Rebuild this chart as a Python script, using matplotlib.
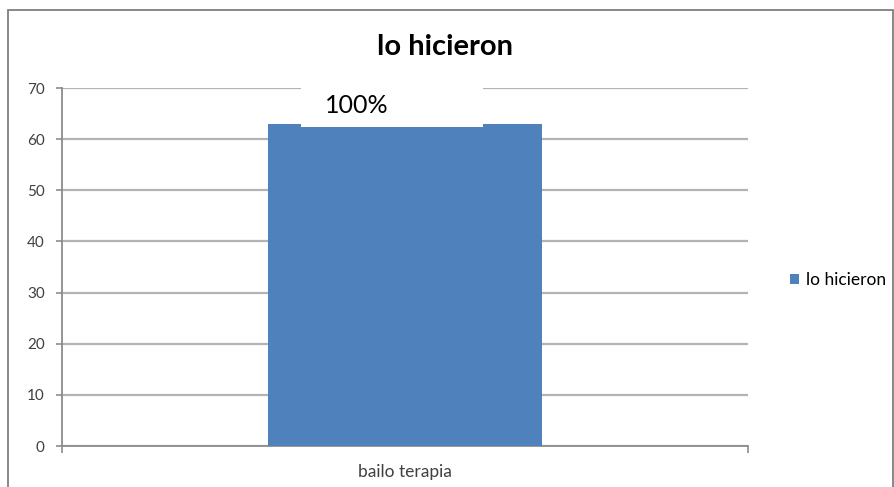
import matplotlib.pyplot as plt
from matplotlib.patches import Rectangle

categories = ['bailo terapia']
values = [63]
series_name = 'lo hicieron'
data_labels = ['100%']
yticks = [0, 10, 20, 30, 40, 50, 60, 70]

bar_color = '#4F81BD'
grid_color = '#B3B3B3'
plt.rcParams['font.family'] = ['Lato', 'DejaVu Sans']

fig = plt.figure(figsize=(8.94, 4.87), dpi=100)
ax = fig.add_axes([62 / 894, 1 - 446 / 487, 686 / 894, 358 / 487])

# chart border (bottom edge falls just outside the image)
fig.patches.append(Rectangle((8 / 894, -3 / 487), 885 / 894, 480 / 487,
                             transform=fig.transFigure, fill=False,
                             edgecolor='#7F7F7F', linewidth=1.3))

x = list(range(len(categories)))
bars = ax.bar(x, values, width=0.4, color=bar_color, label=series_name, zorder=3)

ax.set_xlim(-0.5, len(categories) - 0.5)
ax.set_ylim(0, 70)
ax.set_yticks(yticks)
ax.tick_params(axis='y', labelsize=11, length=4.5, width=1.2, pad=8,
               color='#8C8C8C', labelcolor='#404040')
ax.set_xticks(x)
ax.set_xticklabels(categories)
ax.tick_params(axis='x', length=0, labelsize=12.5, labelcolor='#404040', pad=13)
# category boundary ticks
ax.set_xticks([-0.5 + i for i in range(len(categories) + 1)], minor=True)
ax.tick_params(axis='x', which='minor', length=5, width=1.2, color='#8C8C8C')

ax.grid(axis='y', color=grid_color, linewidth=1.6, zorder=0)
for side in ['top', 'right']:
    ax.spines[side].set_visible(False)
for side in ['left', 'bottom']:
    ax.spines[side].set_color('#8C8C8C')
    ax.spines[side].set_linewidth(1.3)

for rect, lab in zip(bars, data_labels):
    cx = rect.get_x() + rect.get_width() / 2
    h = rect.get_height()
    ax.add_patch(Rectangle((cx - 0.151, h - 0.6), 0.265, 8.6, facecolor='white',
                           edgecolor='none', zorder=4, clip_on=False))
    ax.text(cx - 0.07, h + 3.6, lab, ha='center', va='center',
            fontsize=18, color='black', zorder=5)

fig.text(445 / 894, 1 - 47 / 487, 'lo hicieron', ha='center', va='center',
         fontsize=21, fontweight='bold')

fig.legend(handles=[bars], labels=[series_name], loc='center left',
           bbox_to_anchor=(774 / 894, 1 - 280 / 487), frameon=False,
           fontsize=12.5, handlelength=0.55, handleheight=0.55, handletextpad=0.4)

fig.savefig('out.png', dpi=100)
